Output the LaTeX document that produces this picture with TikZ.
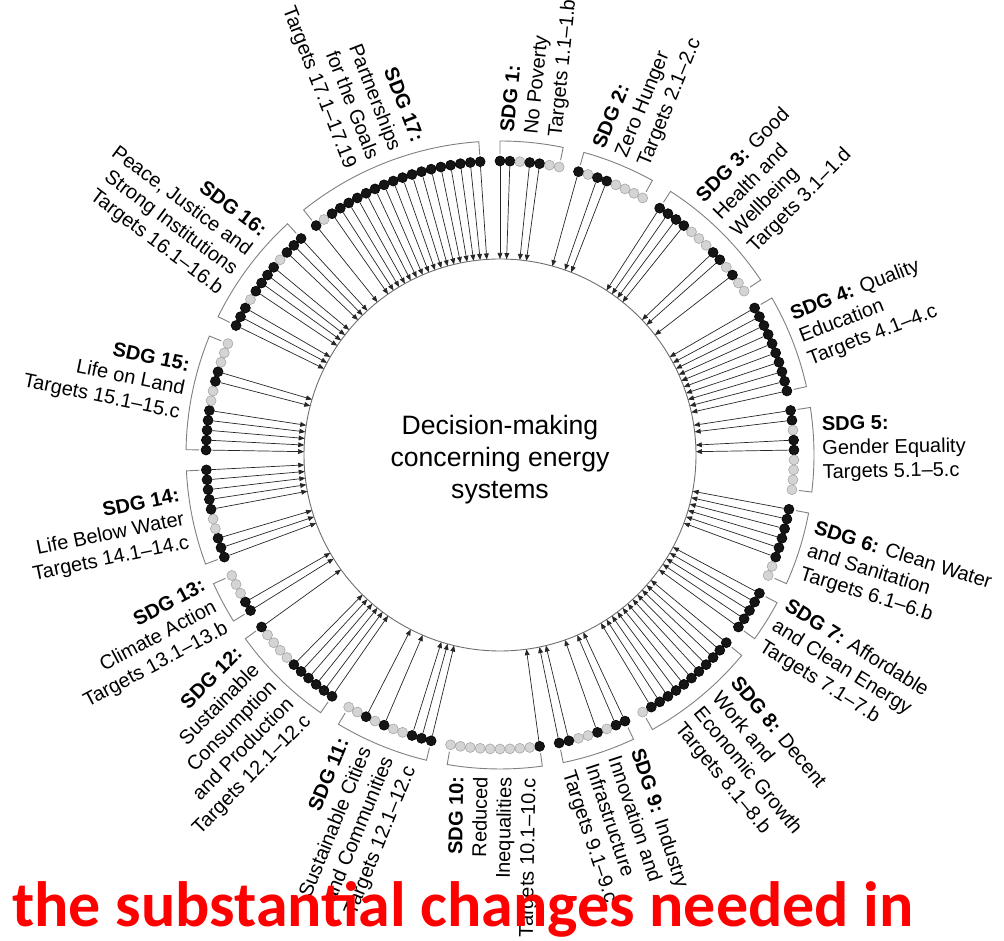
\documentclass[tikz,border=0pt]{standalone}
\usepackage{fontspec}
\setmainfont{Liberation Sans}
\newfontfamily\redfont{Carlito}
\usetikzlibrary{arrows.meta}
\definecolor{DotBlack}{HTML}{151515}
\definecolor{DotGray}{HTML}{D4D4D4}
\definecolor{DotGrayLine}{HTML}{A6A6A6}
\definecolor{BracketGray}{HTML}{7F7F7F}
\definecolor{RingGray}{HTML}{6E6E6E}
\definecolor{SlideRed}{HTML}{FF0000}
\newcommand{\slotstep}{1.9354839} % 360/186: 169 targets + 17 gaps

\begin{document}
\begin{tikzpicture}[x=0.5pt, y=0.5pt, every node/.style={font=\fontsize{10}{12}\selectfont},
    dot1/.style={circle, draw=black, fill=DotBlack, line width=0.3pt, inner sep=0pt, minimum size=5pt},
    dot0/.style={circle, draw=DotGrayLine, fill=DotGray, line width=0.3pt, inner sep=0pt, minimum size=5pt},
    target/.style={-{Triangle[length=3pt, width=2.4pt]}, line width=0.35pt, draw=black!85},
    bracket/.style={draw=BracketGray, line width=0.45pt},
    lbl0/.style={anchor=west, align=left, inner sep=0pt},
    lbl1/.style={anchor=east, align=right, inner sep=0pt}]
    \useasboundingbox (-500,-485) rectangle (504,455);

    % Decision-making ring (centre)
    \draw[RingGray, line width=0.45pt] (0,0) circle[radius=196];
    \node[font=\fontsize{13.3}{16}\selectfont, align=center] (core) at (0,-5) {Decision-making\\concerning energy\\systems};

    % SDG groups: number / first slot / targets / relevance of each target / label
    \foreach \n/\slot/\cnt/\cols/\txt in {
        1/0/7/{1,1,0,1,1,0,0}/{\textbf{SDG 1:}\\No Poverty\\Targets 1.1--1.b},
        2/8/8/{1,0,1,1,0,0,0,0}/{\textbf{SDG 2:}\\Zero Hunger\\Targets 2.1--2.c},
        3/17/13/{1,1,1,1,0,0,0,1,1,0,1,0,0}/{\textbf{SDG 3:} Good\\Health and\\Wellbeing\\Targets 3.1--1.d},
        4/31/10/{1,1,1,1,1,1,1,1,1,1}/{\textbf{SDG 4:} Quality\\Education\\Targets 4.1--4.c},
        5/42/9/{1,1,0,1,1,0,0,0,0}/{\textbf{SDG 5:}\\Gender Equality\\Targets 5.1--5.c},
        6/52/8/{1,1,1,1,1,1,0,0}/{\textbf{SDG 6:} Clean Water\\and Sanitation\\Targets 6.1--6.b},
        7/61/5/{1,1,1,1,1}/{\textbf{SDG 7:} Affordable\\and Clean Energy\\Targets 7.1--7.b},
        8/67/12/{1,1,1,1,1,1,1,1,1,1,1,0}/{\textbf{SDG 8:} Decent\\Work and\\Economic Growth\\Targets 8.1--8.b},
        9/80/8/{1,1,0,1,0,0,1,1}/{\textbf{SDG 9:} Industry\\Innovation and\\Infrastructure\\Targets 9.1--9.c},
        10/89/10/{1,0,0,0,0,0,0,0,0,0}/{\textbf{SDG 10:}\\Reduced\\Inequalities\\Targets 10.1--10.c},
        11/100/10/{1,1,1,0,0,1,0,1,0,0}/{\textbf{SDG 11:}\\Sustainable Cities\\and Communities\\Targets 12.1--12.c},
        12/111/11/{1,1,1,1,1,1,0,0,0,0,1}/{\textbf{SDG 12:}\\Sustainable\\Consumption\\and Production\\Targets 12.1--12.c},
        13/123/5/{1,1,0,0,0}/{\textbf{SDG 13:}\\Climate Action\\Targets 13.1--13.b},
        14/129/10/{1,1,1,0,0,1,1,1,1,1}/{\textbf{SDG 14:}\\Life Below Water\\Targets 14.1--14.c},
        15/140/12/{1,1,1,1,1,0,0,1,1,0,0,0}/{\textbf{SDG 15:}\\Life on Land\\Targets 15.1--15.c},
        16/153/12/{1,1,1,0,1,1,1,1,0,1,1,1}/{\textbf{SDG 16:}\\Peace, Justice and\\Strong Institutions\\Targets 16.1--16.b},
        17/166/19/{1,0,1,1,1,1,1,1,1,1,1,1,1,1,1,1,1,1,1}/{\textbf{SDG 17:}\\Partnerships\\for the Goals\\Targets 17.1--17.19}} {
        % targets: dots, arrows for the relevant ones
        \foreach \hit [count=\idx] in \cols {
            \pgfmathsetmacro\ang{90-(\slot+\idx-1)*\slotstep}
            \node[dot\hit] (d\n-\idx) at (\ang:294) {};
            \ifnum\hit=1
                \coordinate (t\n-\idx) at (\ang:196);
                \draw[target] (d\n-\idx) -- (t\n-\idx);
            \fi
        }
        % bracket and label
        \pgfmathsetmacro\firstang{90-\slot*\slotstep}
        \pgfmathsetmacro\lastang{90-(\slot+\cnt-1)*\slotstep}
        \pgfmathsetmacro\midang{(\firstang+\lastang)/2}
        \pgfmathtruncatemacro\flip{(\midang<-90)+(\midang>90)}
        \pgfmathsetmacro\rot{\midang+180*\flip}
        \draw[bracket] (\firstang:301) -- (\firstang:314) arc[start angle=\firstang, end angle=\lastang, radius=314] -- (\lastang:301);
        \node[lbl\flip, rotate=\rot] (s\n) at (\midang:322) {\txt};
    }

    % slide caption on top
    \node[font=\redfont\bfseries\fontsize{32}{38}\selectfont, text=SlideRed, anchor=base west, inner sep=0pt] (caption) at (-488,-471) {the substantial changes needed in};
\end{tikzpicture}
\end{document}
